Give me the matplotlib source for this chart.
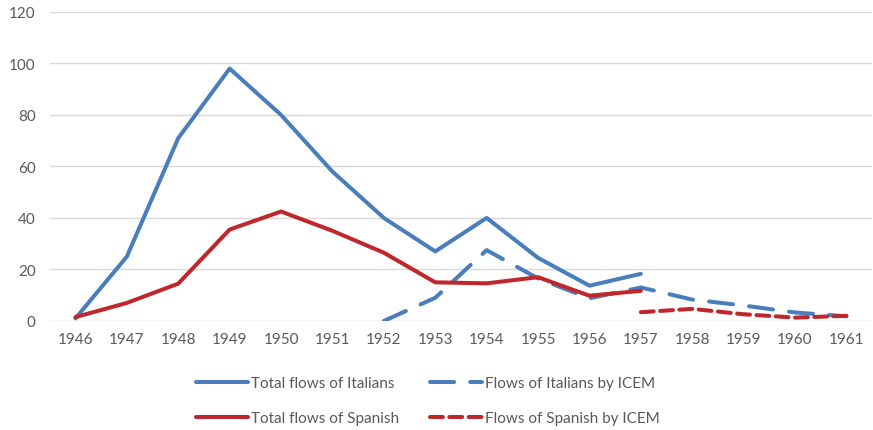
import numpy as np
import matplotlib
matplotlib.use("Agg")
from matplotlib import pyplot as plt

plt.rcParams['font.family'] = ['Lato', 'DejaVu Sans']

years = list(range(1946, 1962))
ita_total = [1, 25, 71, 98, 80, 58, 40, 27, 40, 24.5, 13.7, 18.3]
spa_total = [1.5, 7, 14.5, 35.5, 42.5, 35, 26.5, 15, 14.6, 17, 9.8, 11.7]
ita_icem = [0, 9, 27.5, 16.5, 8.8, 13, 8.3, 6, 3.3, 1.8]
spa_icem = [3.4, 4.7, 2.6, 1.3, 2]

blue = '#4A7EBB'
red = '#C0272D'
grey = '#595959'

fig = plt.figure(figsize=(8.73, 4.31), dpi=100)
ax = fig.add_axes([0.057, 0.253, 0.942, 0.717])

x = np.arange(len(years))
ax.plot(x[:len(ita_total)], ita_total, color=blue, lw=2.9, solid_capstyle='round',
        solid_joinstyle='round', label='Total flows of Italians')
ax.plot(x[6:6 + len(ita_icem)], ita_icem, color=blue, lw=2.9, dashes=(6, 4),
        dash_capstyle='round', label='Flows of Italians by ICEM')
ax.plot(x[:len(spa_total)], spa_total, color=red, lw=2.9, solid_capstyle='round',
        solid_joinstyle='round', label='Total flows of Spanish')
ax.plot(x[11:11 + len(spa_icem)], spa_icem, color=red, lw=2.9, dashes=(3.2, 1.6),
        dash_capstyle='round', label='Flows of Spanish by ICEM')

ax.set_xlim(-0.5, len(years) - 0.5)
ax.set_ylim(0, 120)
ax.set_yticks(range(0, 121, 20))
ax.set_xticks(x)
ax.set_xticklabels([str(y) for y in years])
ax.grid(axis='y', color='#D9D9D9', lw=1)
ax.set_axisbelow(True)
for s in ax.spines.values():
    s.set_visible(False)
ax.tick_params(length=0, labelsize=11, colors=grey, pad=8)
ax.tick_params(axis='y', pad=10)

# legend filled column by column: put totals in the first column
h, l = ax.get_legend_handles_labels()
order = [0, 2, 1, 3]
fig.legend([h[i] for i in order], [l[i] for i in order], ncol=2,
           loc='lower center', bbox_to_anchor=(0.49, -0.02), frameon=False,
           fontsize=11, labelcolor=grey, handlelength=3.4, handletextpad=0.2,
           columnspacing=2.0, labelspacing=1.35)

fig.savefig('out.png', dpi=100)
